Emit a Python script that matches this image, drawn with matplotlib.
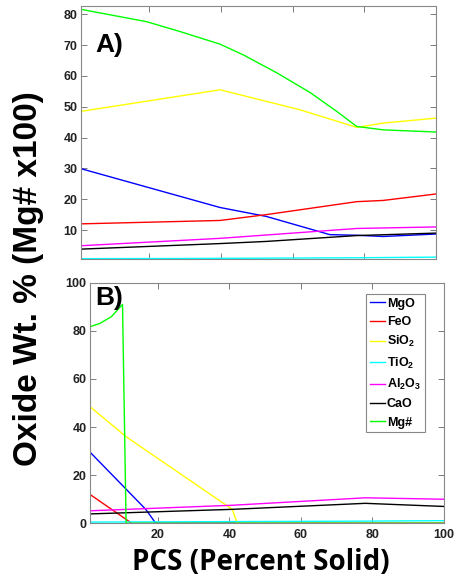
import matplotlib
matplotlib.use("Agg")
import matplotlib.pyplot as plt

plt.rcParams['mathtext.fontset'] = 'custom'
plt.rcParams['mathtext.rm'] = 'Liberation Sans:bold'
plt.rcParams['mathtext.default'] = 'rm'

labels = ['MgO', 'FeO', 'SiO$_2$', 'TiO$_2$', 'Al$_2$O$_3$', 'CaO', 'Mg#']
colors = ['#0000ff', '#ff0000', '#ffff00', '#00ffff', '#ff00ff', '#000000', '#00ff00']

# Panel A
xA_mgo = [1, 39.8, 52.7, 70.4, 77.9, 85.3, 100]
yA_mgo = [29.9, 17.3, 14.4, 8.5, 8.3, 7.9, 8.7]
xA_feo = [1, 39.8, 52.7, 77.9, 85.3, 100]
yA_feo = [12.0, 13.1, 15.0, 19.2, 19.6, 21.7]
xA_sio2 = [1, 39.8, 62.1, 77.9, 85.3, 100]
yA_sio2 = [48.5, 55.5, 49.0, 43.3, 44.7, 46.3]
xA_tio2 = [1, 39.8, 77.9, 100]
yA_tio2 = [0.7, 0.8, 1.0, 1.2]
xA_al2o3 = [1, 39.8, 77.9, 100]
yA_al2o3 = [4.9, 7.3, 10.5, 11.0]
xA_cao = [1, 39.8, 52.7, 77.9, 100]
yA_cao = [3.8, 5.6, 6.3, 8.2, 9.0]
xA_mg = [1, 19.3, 28.6, 39.8, 46.3, 55.6, 64.9, 72.3, 77.9, 85.3, 100]
yA_mg = [81.6, 77.6, 74.4, 70.3, 66.8, 61.0, 54.6, 48.5, 43.6, 42.5, 41.8]

# Panel B
xB_mgo = [1, 16.6, 19.4, 100]
yB_mgo = [29.6, 5.8, 0, 0]
xB_feo = [1, 12.7, 100]
yB_feo = [12.0, 0, 0]
xB_sio2 = [1, 11.1, 40.8, 42.2, 100]
yB_sio2 = [48.5, 36.0, 5.8, 0, 0]
xB_tio2 = [1, 40, 78, 100]
yB_tio2 = [0.5, 0.7, 0.9, 1.1]
xB_al2o3 = [1, 40.8, 78, 100]
yB_al2o3 = [5.2, 7.5, 10.6, 10.0]
xB_cao = [1, 40.8, 78, 100]
yB_cao = [3.9, 5.8, 8.3, 7.0]
xB_mg = [1, 3.8, 7.0, 10.1, 11.1, 100]
yB_mg = [81.7, 83.1, 85.9, 91.0, 0, 0]

seriesA = [(xA_mgo, yA_mgo), (xA_feo, yA_feo), (xA_sio2, yA_sio2), (xA_tio2, yA_tio2),
           (xA_al2o3, yA_al2o3), (xA_cao, yA_cao), (xA_mg, yA_mg)]
seriesB = [(xB_mgo, yB_mgo), (xB_feo, yB_feo), (xB_sio2, yB_sio2), (xB_tio2, yB_tio2),
           (xB_al2o3, yB_al2o3), (xB_cao, yB_cao), (xB_mg, yB_mg)]

fig = plt.figure(figsize=(4.54, 5.79), dpi=100)
axA = fig.add_axes([0.1784, 0.5527, 0.782, 0.4370])
axB = fig.add_axes([0.1982, 0.0962, 0.7797, 0.4155])

def style(ax):
    for s in ax.spines.values():
        s.set_color('#888888')
        s.set_linewidth(0.8)
    ax.tick_params(direction='in', length=4, width=0.6, color='#666666',
                   top=True, right=True, labelsize=9, labelcolor='#222222', pad=2.5)
    for lab in ax.get_xticklabels() + ax.get_yticklabels():
        lab.set_fontweight('bold')
        lab.set_family('Liberation Sans')

for (x, y), c in zip(seriesA, colors):
    axA.plot(x, y, color=c, lw=1.0)
axA.set_xlim(1, 100)
axA.set_ylim(0.6, 82.7)
axA.set_xticks([20, 40, 60, 80])
axA.set_xticklabels([])
axA.set_yticks(range(10, 81, 10))
style(axA)
axA.text(0.04, 0.845, 'A)', transform=axA.transAxes, fontsize=19, fontweight='bold',
         family='Liberation Sans', va='center', ha='left')

handles = []
for (x, y), c, l in zip(seriesB, colors, labels):
    h, = axB.plot(x, y, color=c, lw=1.0, label=l)
    handles.append(h)
axB.set_xlim(1, 100)
axB.set_ylim(0, 100)
axB.set_xticks([20, 40, 60, 80, 100])
axB.set_yticks([0, 20, 40, 60, 80, 100])
style(axB)
axB.tick_params(axis='x', pad=4)
axB.text(0.014, 0.938, 'B)', transform=axB.transAxes, fontsize=19, fontweight='bold',
         family='Liberation Sans', va='center', ha='left')

leg = axB.legend(handles=handles, loc='upper right', bbox_to_anchor=(0.946, 0.953),
                 fancybox=False, framealpha=1, edgecolor='#888888', handlelength=1.2,
                 handletextpad=0.15, borderpad=0.3, labelspacing=0.5, borderaxespad=0,
                 prop={'family': 'Liberation Sans', 'weight': 'bold', 'size': 9})
leg.get_frame().set_linewidth(0.8)

fig.text(0.063, 0.518, 'Oxide Wt. % (Mg# x100)', rotation=90, ha='center', va='center',
         fontsize=24, fontweight='bold', family='Liberation Sans')
fig.text(0.575, 0.029, 'PCS (Percent Solid)', ha='center', va='center',
         fontsize=20, fontweight='bold', family='Open Sans')

fig.savefig('out.png', dpi=100)
